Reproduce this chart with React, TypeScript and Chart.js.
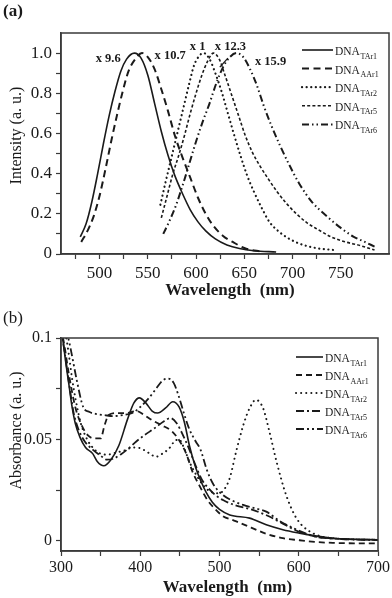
import React, { useEffect, useRef } from 'react';
import { Chart, registerables } from 'chart.js';
Chart.register(...registerables);

const FONT = '"Liberation Serif", "Times New Roman", Times, serif';
const INK = '#1a1a1a';
const AXIS = '#3a3a3a';

// ---------- shared ----------
const seriesNames = ['TAr1', 'AAr1', 'TAr2', 'TAr5', 'TAr6'];
const namePrefix = 'DNA';

// ---------- panel (a): emission ----------
const emTAr1Wl = [480, 486, 492, 498, 504, 510, 516, 522, 528, 536, 543, 550, 557, 564, 571, 578, 586, 594, 602, 610, 620, 632, 645, 660, 683];
const emTAr1 = [0.085, 0.15, 0.26, 0.40, 0.55, 0.69, 0.81, 0.91, 0.97, 1.0, 0.975, 0.89, 0.75, 0.61, 0.49, 0.39, 0.30, 0.22, 0.16, 0.115, 0.075, 0.045, 0.027, 0.016, 0.01];

const emAAr1Wl = [481, 488, 494, 500, 506, 512, 518, 524, 530, 537, 544, 550, 557, 564, 571, 578, 586, 594, 602, 610, 618, 628, 638, 650, 669];
const emAAr1 = [0.06, 0.12, 0.19, 0.29, 0.42, 0.56, 0.69, 0.81, 0.91, 0.97, 1.0, 0.98, 0.92, 0.82, 0.71, 0.59, 0.48, 0.38, 0.28, 0.20, 0.14, 0.09, 0.06, 0.03, 0.01];

const emTAr2Wl = [563, 568, 573, 578, 583, 588, 593, 598, 604, 608, 614, 620, 627, 633, 639, 646, 653, 660, 668, 676, 685, 695, 708, 724, 742];
const emTAr2 = [0.245, 0.35, 0.45, 0.55, 0.65, 0.75, 0.85, 0.94, 0.99, 1.0, 0.97, 0.90, 0.80, 0.70, 0.60, 0.49, 0.39, 0.31, 0.23, 0.16, 0.115, 0.08, 0.05, 0.03, 0.02];

const emTAr5Wl = [564, 570, 576, 582, 588, 594, 600, 606, 612, 618, 624, 630, 637, 644, 651, 658, 666, 674, 684, 694, 704, 715, 727, 740, 755, 770, 785];
const emTAr5 = [0.18, 0.29, 0.40, 0.49, 0.59, 0.70, 0.80, 0.89, 0.96, 1.0, 0.97, 0.89, 0.79, 0.69, 0.59, 0.51, 0.44, 0.38, 0.31, 0.25, 0.20, 0.155, 0.12, 0.085, 0.06, 0.042, 0.02];

const emTAr6Wl = [566, 572, 579, 586, 593, 600, 607, 614, 621, 628, 635, 642, 649, 656, 663, 670, 678, 687, 697, 707, 720, 735, 750, 763, 775, 785];
const emTAr6 = [0.10, 0.16, 0.24, 0.34, 0.45, 0.56, 0.66, 0.75, 0.85, 0.93, 0.98, 1.0, 0.98, 0.92, 0.84, 0.74, 0.64, 0.54, 0.44, 0.35, 0.26, 0.19, 0.13, 0.087, 0.06, 0.037];

const aXTickMarks = [475, 500, 525, 550, 575, 600, 625, 650, 675, 700, 725, 750, 775];
const aXTicks = [500, 550, 600, 650, 700, 750];
const aXTickLabels = ['500', '550', '600', '650', '700', '750'];
const aYTickMarks = [0, 0.1, 0.2, 0.3, 0.4, 0.5, 0.6, 0.7, 0.8, 0.9, 1.0];
const aYTicks = [0, 0.2, 0.4, 0.6, 0.8, 1.0];
const aYTickLabels = ['0', '0.2', '0.4', '0.6', '0.8', '1.0'];

const noteTexts = ['x 9.6', 'x 10.7', 'x 1', 'x 12.3', 'x 15.9'];
const noteWl = [496, 557, 593.5, 619.5, 661];
const noteI = [0.97, 0.985, 1.03, 1.03, 0.955];
const leaderWl = [624.6, 633];
const leaderI = [0.93, 0.975];

// ---------- panel (b): absorbance ----------
const abTAr1Wl = [300, 302, 306, 310, 314, 318, 324, 331, 340, 346, 354, 363, 373, 384, 392, 399, 407, 415, 422, 432, 441, 449, 456, 462, 470, 477, 483, 491, 500, 513, 538, 559, 580, 601, 620, 643, 670, 700];
const abTAr1 = [0.105, 0.1, 0.088, 0.077, 0.066, 0.058, 0.051, 0.046, 0.043, 0.039, 0.037, 0.040, 0.047, 0.060, 0.068, 0.0705, 0.068, 0.064, 0.063, 0.0655, 0.0686, 0.066, 0.058, 0.047, 0.036, 0.029, 0.024, 0.019, 0.0155, 0.0128, 0.0112, 0.0079, 0.0055, 0.0038, 0.0025, 0.0013, 0.0008, 0.0005];

const abAAr1Wl = [300, 304, 310, 318, 326, 334, 342, 350, 355, 360, 370, 382, 395, 405, 415, 427, 440, 450, 458, 466, 475, 485, 495, 505, 515, 525, 540, 559, 580, 601, 620, 643, 670, 700];
const abAAr1 = [0.105, 0.097, 0.082, 0.066, 0.057, 0.052, 0.0505, 0.0505, 0.057, 0.062, 0.063, 0.063, 0.064, 0.062, 0.0595, 0.057, 0.054, 0.049, 0.043, 0.034, 0.027, 0.020, 0.0155, 0.012, 0.0105, 0.0090, 0.0065, 0.0035, 0.0013, 0.0003, -0.0005, -0.001, -0.0012, -0.0012];

const abTAr2Wl = [300, 305, 310, 314, 319, 325, 333, 340, 348, 358, 370, 382, 390, 399, 410, 420, 428, 437, 443, 449, 455, 462, 470, 479, 490, 500, 507, 513, 521, 530, 538, 546, 555, 563, 572, 584, 597, 614, 643, 700];
const abTAr2 = [0.112, 0.104, 0.0916, 0.08, 0.0686, 0.058, 0.05, 0.046, 0.0433, 0.0425, 0.0435, 0.0448, 0.046, 0.0458, 0.0435, 0.0415, 0.043, 0.0458, 0.049, 0.050, 0.046, 0.039, 0.033, 0.0276, 0.024, 0.0235, 0.026, 0.031, 0.044, 0.057, 0.0654, 0.0695, 0.0654, 0.0538, 0.039, 0.0227, 0.0112, 0.0046, 0.0013, 0.0005];

const abTAr5Wl = [300, 305, 310, 316, 322, 330, 340, 350, 358, 366, 375, 385, 395, 405, 418, 430, 438, 446, 454, 462, 470, 478, 486, 495, 505, 520, 540, 560, 580, 600, 620, 650, 700];
const abTAr5 = [0.105, 0.092, 0.078, 0.063, 0.055, 0.049, 0.045, 0.042, 0.040, 0.0405, 0.0425, 0.0455, 0.049, 0.052, 0.0555, 0.059, 0.0605, 0.058, 0.052, 0.045, 0.037, 0.030, 0.026, 0.0225, 0.020, 0.0175, 0.0155, 0.0125, 0.0085, 0.0045, 0.0022, 0.001, 0.0004];

const abTAr6Wl = [300, 305, 312, 320, 328, 336, 345, 355, 365, 378, 390, 400, 410, 420, 428, 435, 442, 448, 455, 462, 470, 476, 484, 492, 504, 518, 530, 545, 559, 575, 593, 610, 622, 650, 700];
const abTAr6 = [0.115, 0.107, 0.095, 0.079, 0.066, 0.0635, 0.0625, 0.062, 0.0615, 0.062, 0.063, 0.066, 0.07, 0.075, 0.079, 0.08, 0.078, 0.072, 0.063, 0.055, 0.049, 0.045, 0.035, 0.028, 0.0227, 0.0195, 0.0177, 0.016, 0.0144, 0.01, 0.0063, 0.0035, 0.002, 0.001, 0.0005];

const bXTickMarks = [300, 350, 400, 450, 500, 550, 600, 650, 700];
const bXTicks = [300, 400, 500, 600, 700];
const bXTickLabels = ['300', '400', '500', '600', '700'];
const bYTickMarks = [0, 0.025, 0.05, 0.075, 0.1];
const bYTicks = [0, 0.05, 0.1];
const bYTickLabels = ['0', '0.05', '0.1'];

// ---------- helpers ----------
type Style = { dash: number[]; width: number; cap?: CanvasLineCap };

const stylesA: Style[] = [
  { dash: [], width: 1.6 },
  { dash: [7, 4.5], width: 2 },
  { dash: [0.1, 4.5], width: 2.2, cap: 'round' },
  { dash: [3, 2.2], width: 1.6 },
  { dash: [7, 3, 1.5, 3, 1.5, 3], width: 2 },
];
const stylesB: Style[] = [
  { dash: [], width: 1.6 },
  { dash: [6, 4], width: 1.8 },
  { dash: [0.1, 5], width: 2, cap: 'round' },
  { dash: [8, 3, 2, 3], width: 1.8 },
  { dash: [8, 3, 2, 3, 2, 3], width: 1.8 },
];

const pts = (xs: number[], ys: number[]) => xs.map((x, i) => ({ x, y: ys[i] }));
const near = (a: number, b: number) => Math.abs(a - b) < 1e-6;
const labelFrom = (vals: number[], labs: string[]) => (v: number) => {
  const i = vals.findIndex((t) => near(t, v));
  return i >= 0 ? labs[i] : '';
};

function makeDatasets(series: [number[], number[]][], styles: Style[]) {
  return series.map(([xs, ys], i) => ({
    label: namePrefix + seriesNames[i],
    data: pts(xs, ys),
    borderColor: INK,
    borderWidth: styles[i].width,
    borderDash: styles[i].dash,
    borderCapStyle: styles[i].cap || 'butt',
    pointRadius: 0,
    fill: false,
    tension: 0.4,
    cubicInterpolationMode: 'monotone',
  }));
}

function axis(o: any) {
  return {
    type: 'linear',
    min: o.min,
    max: o.max,
    afterFit: (s: any) => {
      if (o.height) s.height = o.height;
      if (o.width) s.width = o.width;
    },
    afterBuildTicks: (s: any) => {
      s.ticks = o.marks.map((v: number) => ({ value: v }));
    },
    ticks: {
      autoSkip: false,
      maxRotation: 0,
      minRotation: 0,
      padding: o.padding,
      color: INK,
      font: { family: FONT, size: o.font },
      callback: labelFrom(o.vals, o.labs),
    },
    grid: {
      drawOnChartArea: false,
      drawTicks: true,
      tickLength: 5,
      tickWidth: 1.2,
      tickColor: AXIS,
    },
    border: { display: true, color: AXIS, width: 1.5 },
  };
}

function makeDecor(o: any) {
  return {
    id: 'decor',
    afterDraw(chart: any) {
      const { ctx, chartArea: a } = chart;
      const xs = chart.scales.x;
      const ys = chart.scales.y;
      ctx.save();
      ctx.setLineDash([]);
      ctx.strokeStyle = AXIS;
      ctx.lineWidth = 1.5;
      ctx.strokeRect(a.left, a.top, a.right - a.left, a.bottom - a.top);

      ctx.fillStyle = INK;
      ctx.font = o.panelFont;
      ctx.textAlign = 'left';
      ctx.textBaseline = 'middle';
      ctx.fillText(o.panel, o.panelX, o.panelY);

      ctx.font = o.xTitleFont;
      ctx.textAlign = 'center';
      ctx.fillText(o.xTitle, (a.left + a.right) / 2 + o.xTitleDx, a.bottom + o.xTitleDy);

      ctx.save();
      ctx.translate(o.yTitleX, (a.top + a.bottom) / 2 + o.yTitleDy);
      ctx.rotate(-Math.PI / 2);
      ctx.font = o.yTitleFont;
      ctx.textAlign = 'center';
      ctx.textBaseline = 'middle';
      ctx.fillText(o.yTitle, 0, 0);
      ctx.restore();

      seriesNames.forEach((n, i) => {
        const st: Style = o.styles[i];
        const y = a.top + o.legTop + i * o.legGap;
        ctx.save();
        ctx.strokeStyle = INK;
        ctx.lineWidth = st.width;
        ctx.setLineDash(st.dash);
        ctx.lineCap = st.cap || 'butt';
        ctx.beginPath();
        ctx.moveTo(a.right - o.legLine0, y);
        ctx.lineTo(a.right - o.legLine1, y);
        ctx.stroke();
        ctx.restore();
        ctx.fillStyle = INK;
        ctx.textAlign = 'left';
        ctx.textBaseline = 'alphabetic';
        ctx.font = `${o.legFont}px ${FONT}`;
        const tx = a.right - o.legText;
        ctx.fillText(namePrefix, tx, y + 5);
        const w = ctx.measureText(namePrefix).width;
        ctx.font = `${o.subFont}px ${FONT}`;
        ctx.fillText(n, tx + w + 0.5, y + 8.5);
      });

      if (o.notes) {
        ctx.fillStyle = INK;
        ctx.font = `bold 12.5px ${FONT}`;
        ctx.textAlign = 'left';
        ctx.textBaseline = 'middle';
        o.notes.texts.forEach((t: string, i: number) => {
          ctx.fillText(t, xs.getPixelForValue(o.notes.wl[i]), ys.getPixelForValue(o.notes.v[i]));
        });
        ctx.strokeStyle = INK;
        ctx.lineWidth = 1.3;
        ctx.setLineDash([]);
        ctx.beginPath();
        ctx.moveTo(xs.getPixelForValue(o.notes.lwl[0]), ys.getPixelForValue(o.notes.lv[0]));
        ctx.lineTo(xs.getPixelForValue(o.notes.lwl[1]), ys.getPixelForValue(o.notes.lv[1]));
        ctx.stroke();
      }
      ctx.restore();
    },
  };
}

function configA(): any {
  return {
    type: 'line',
    data: {
      datasets: makeDatasets(
        [[emTAr1Wl, emTAr1], [emAAr1Wl, emAAr1], [emTAr2Wl, emTAr2], [emTAr5Wl, emTAr5], [emTAr6Wl, emTAr6]],
        stylesA
      ),
    },
    options: {
      responsive: false,
      devicePixelRatio: 1,
      animation: false,
      events: [],
      layout: { padding: { top: 33, right: 3, left: 0, bottom: 0 } },
      plugins: { legend: { display: false }, tooltip: { enabled: false } },
      scales: {
        x: axis({ min: 460, max: 800, height: 46, padding: 4, font: 17, marks: aXTickMarks, vals: aXTicks, labs: aXTickLabels }),
        y: axis({ min: 0, max: 1.1, width: 61, padding: 4, font: 17, marks: aYTickMarks, vals: aYTicks, labs: aYTickLabels }),
      },
    },
    plugins: [
      makeDecor({
        panel: '(a)', panelFont: `bold 17px ${FONT}`, panelX: 3, panelY: 12,
        xTitle: 'Wavelength  (nm)', xTitleFont: `bold 17px ${FONT}`, xTitleDx: 5, xTitleDy: 37,
        yTitle: 'Intensity (a. u.)', yTitleFont: `16px ${FONT}`, yTitleX: 17, yTitleDy: -8,
        styles: stylesA, legTop: 17, legGap: 18.6, legLine0: 87, legLine1: 56, legText: 54, legFont: 11.5, subFont: 8,
        notes: { texts: noteTexts, wl: noteWl, v: noteI, lwl: leaderWl, lv: leaderI },
      }),
    ],
  };
}

function configB(): any {
  return {
    type: 'line',
    data: {
      datasets: makeDatasets(
        [[abTAr1Wl, abTAr1], [abAAr1Wl, abAAr1], [abTAr2Wl, abTAr2], [abTAr5Wl, abTAr5], [abTAr6Wl, abTAr6]],
        stylesB
      ),
    },
    options: {
      responsive: false,
      devicePixelRatio: 1,
      animation: false,
      events: [],
      layout: { padding: { top: 38, right: 13, left: 0, bottom: 0 } },
      plugins: { legend: { display: false }, tooltip: { enabled: false } },
      scales: {
        x: axis({ min: 300, max: 700, height: 47, padding: 2, font: 16, marks: bXTickMarks, vals: bXTicks, labs: bXTickLabels }),
        y: axis({ min: -0.005, max: 0.1, width: 61, padding: 4, font: 16, marks: bYTickMarks, vals: bYTicks, labs: bYTickLabels }),
      },
    },
    plugins: [
      makeDecor({
        panel: '(b)', panelFont: `17px ${FONT}`, panelX: 3, panelY: 19,
        xTitle: 'Wavelength  (nm)', xTitleFont: `bold 17px ${FONT}`, xTitleDx: 8, xTitleDy: 36.5,
        yTitle: 'Absorbance (a. u.)', yTitleFont: `16px ${FONT}`, yTitleX: 17, yTitleDy: -14,
        styles: stylesB, legTop: 19, legGap: 18, legLine0: 82, legLine1: 55, legText: 53, legFont: 11.5, subFont: 8,
      }),
    ],
  };
}

function Panel({ make, width, height }: { make: () => any; width: number; height: number }) {
  const ref = useRef<HTMLCanvasElement>(null);
  useEffect(() => {
    const chart = new Chart(ref.current as HTMLCanvasElement, make());
    return () => chart.destroy();
  }, []);
  return <canvas ref={ref} width={width} height={height} style={{ display: 'block', width, height }} />;
}

export default function App() {
  return (
    <div style={{ position: 'absolute', left: 0, top: 0, width: 392, height: 598, background: '#fff' }}>
      <Panel make={configA} width={392} height={300} />
      <Panel make={configB} width={392} height={298} />
    </div>
  );
}
